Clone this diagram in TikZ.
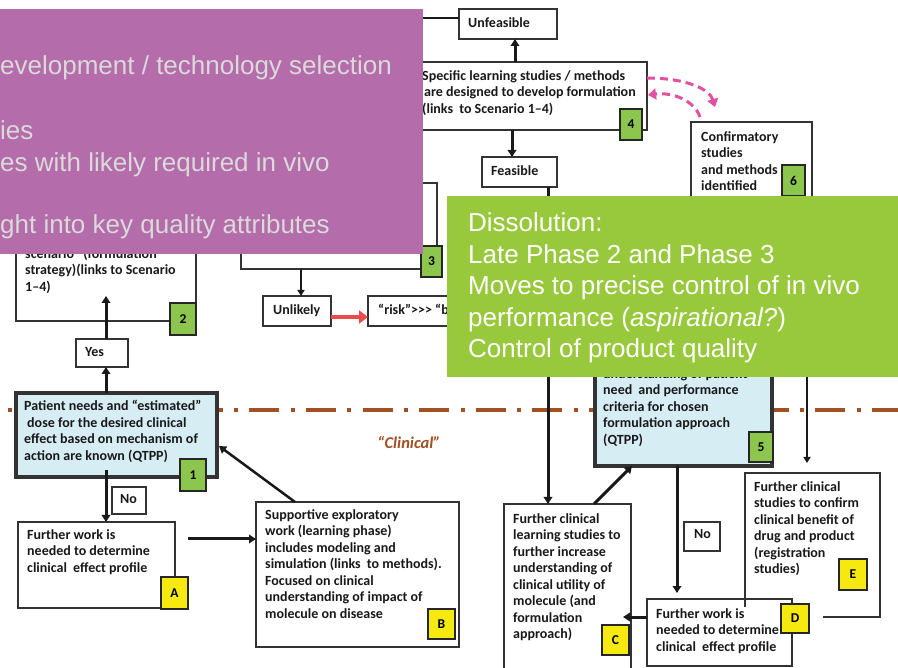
\documentclass[tikz,border=0pt]{standalone}
\usepackage{fontspec}
\setmainfont{Carlito}
\newfontfamily\arialf{Liberation Sans}
\usetikzlibrary{arrows.meta,calc}
\definecolor{purp}{RGB}{180,108,170}
\definecolor{grn}{RGB}{152,201,60}
\definecolor{lgrn}{RGB}{141,198,78}
\definecolor{yel}{RGB}{245,233,15}
\definecolor{lblue}{RGB}{215,237,244}
\definecolor{brn}{RGB}{160,80,35}
\definecolor{pnk}{RGB}{226,80,160}
\definecolor{redar}{RGB}{235,75,75}
\definecolor{ltxt}{RGB}{218,218,218}
\begin{document}
\begin{tikzpicture}[x=1pt,y=-1pt,
 box/.style={draw=black!80, line width=1.1pt, fill=white, inner sep=0pt, outer sep=0pt, anchor=north west},
 qbox/.style={box, fill=lblue, line width=3.5pt},
 txt/.style={font=\bfseries\fontsize{14}{16.5}\selectfont, align=left, inner sep=0pt, anchor=north west, text=black!90},
 lab/.style={draw=black!85, line width=1.1pt, inner sep=0pt, outer sep=0pt, font=\bfseries\fontsize{13.5}{13.5}\selectfont},
 glab/.style={lab, fill=lgrn},
 ylab/.style={lab, fill=yel},
 arr/.style={line width=3pt, black!90, -{Triangle[length=7pt,width=8.5pt]}},
 thinarr/.style={line width=2pt, black!90, -{Triangle[length=6pt,width=7pt]}},
 pk/.style={pnk, line width=3pt, dash pattern=on 8pt off 5pt, -{Triangle[length=8pt,width=11pt]}},
 big/.style={font=\arialf\fontsize{26}{31.5}\selectfont, inner sep=0pt, anchor=base west},
]
\clip (0,0) rectangle (898,668);
\fill[white] (0,0) rectangle (898,668);

% dash-dot separator
\coordinate (dl) at (-33.6,410);
\coordinate (dr) at (898,410);
\draw[brn, line width=4pt, dash pattern=on 30pt off 11.3pt on 4pt off 11.3pt] (dl) -- (dr);
\node[font=\bfseries\itshape\fontsize{16.5}{16.5}\selectfont, text=brn, inner sep=0pt] (clin) at (409,442) {“Clinical”};

% boxes
\node[box, minimum width=98pt, minimum height=30pt] (unf) at (459,9) {};
\node[box, minimum width=232pt, minimum height=68pt] (b4) at (415,62) {};
\node[box, minimum width=75pt, minimum height=30pt] (feas) at (482,157) {};
\node[box, minimum width=121pt, minimum height=130pt] (b6) at (691,122) {};
\node[box, minimum width=196pt, minimum height=86pt] (b3) at (241,183) {};
\node[box, minimum width=68pt, minimum height=30pt] (unl) at (263,296) {};
\node[box, minimum width=130pt, minimum height=30pt] (risk) at (368,296) {};
\node[box, minimum width=180pt, minimum height=121pt] (b2) at (16,200) {};
\node[box, minimum width=52pt, minimum height=28pt] (yes) at (76,339) {};
\node[qbox, minimum width=201pt, minimum height=84pt] (b1) at (16,393) {};
\node[box, minimum width=34pt, minimum height=27pt] (no1) at (112,487) {};
\node[box, minimum width=157pt, minimum height=86pt] (bA) at (18,522) {};
\node[box, minimum width=203pt, minimum height=145pt] (bB) at (256,502) {};
\node[qbox, minimum width=177pt, minimum height=136pt] (b5) at (595,330) {};
\node[box, minimum width=36pt, minimum height=29pt] (no2) at (684,522) {};
\node[box, minimum width=127pt, minimum height=200pt] (bC) at (504,504) {};
\node[box, minimum width=145pt, minimum height=67pt] (bD) at (647,599) {};
\node[inner sep=0pt, outer sep=0pt, anchor=north west, minimum width=135pt, minimum height=144pt] (bE) at (745,473) {};
\draw[black!80, line width=1.1pt] ($(bE.south west)+(0,-10)$) -- (bE.north west) -- (bE.north east) -- (bE.south east) -- ($(bE.south east)+(-57,0)$);

% texts
\node[txt] (tunf) at (468,17) {Unfeasible};
\node[txt] (t4) at (422,70) {Specific learning studies / methods\\\hspace{2pt}are designed to develop formulation\\(links\hspace{3pt} to Scenario 1–4)};
\node[txt] (tfeas) at (491,165) {Feasible};
\node[txt] (t6) at (701,131) {Confirmatory\\studies\\and methods\\identified};
\node[txt] (tunl) at (273,304) {Unlikely};
\node[txt] (trisk) at (378,304) {“risk”{>}{>}{>} “b};
\node[txt] (t2) at (25,247.5) {scenario” (formulation\\strategy)(links to Scenario\\1–4)};
\node[txt] (tyes) at (85,347) {Yes};
\node[txt] (t1) at (24,400) {Patient needs and “estimated”\\\hspace{3pt}dose for the desired clinical\\effect based on mechanism of\\action are known (QTPP)};
\node[txt] (tno1) at (120,494) {No};
\node[txt] (tA) at (27,529) {Further work is\\needed to determine\\clinical\hspace{3pt} effect profile};
\node[txt] (tB) at (265,509) {Supportive exploratory\\work (learning phase)\\includes modeling and\\simulation (links\hspace{3pt} to methods).\\Focused on clinical\\understanding of impact of\\molecule on disease};
\node[txt] (t5) at (603,368) {understanding of patient\\need\hspace{3pt} and performance\\criteria for chosen\\formulation approach\\(QTPP)};
\node[txt] (tno2) at (694,529) {No};
\node[txt] (tC) at (513,513) {Further clinical\\learning studies to\\further increase\\understanding of\\clinical utility of\\molecule (and\\formulation\\approach)};
\node[txt] (tD) at (656,608) {Further work is\\needed to determine\\clinical\hspace{3pt} effect profile};
\node[txt] (tE) at (754,481) {Further clinical\\studies to confirm\\clinical benefit of\\drug and product\\(registration\\studies)};

% labels
\node[glab, minimum width=22pt, minimum height=31pt] (L4) at (631,124.5) {4};
\node[glab, minimum width=23pt, minimum height=31pt] (L6) at (793.5,180.5) {6};
\node[glab, minimum width=21pt, minimum height=31pt] (L3) at (431.5,261.5) {3};
\node[glab, minimum width=26pt, minimum height=32pt] (L2) at (183,319) {2};
\node[glab, minimum width=26pt, minimum height=32pt] (L1) at (193,475) {1};
\node[ylab, minimum width=27pt, minimum height=32pt] (LA) at (174.5,593) {A};
\node[ylab, minimum width=27pt, minimum height=30pt] (LB) at (441.5,624) {B};
\node[glab, minimum width=24pt, minimum height=30pt] (L5) at (761,447) {5};
\node[ylab, minimum width=27pt, minimum height=30pt] (LC) at (615.5,640) {C};
\node[ylab, minimum width=28pt, minimum height=29pt] (LD) at (795,618.5) {D};
\node[ylab, minimum width=28pt, minimum height=31pt] (LE) at (853,574.5) {E};

% connectors
\draw[arr] (b4.north -| 515,0) -- (unf.south -| 515,0);
\draw[arr] (b4.south -| 512,0) -- (feas.north -| 512,0);
\draw[arr] (feas.south -| 548,0) -- (bC.north -| 548,0);
\draw[thinarr, line width=2.5pt] (b3.south -| 301,0) -- (unl.north -| 301,0);
\draw[redar, line width=4.5pt, -{Triangle[length=9pt,width=13pt]}] (unl.east |- 0,317) -- (risk.west |- 0,317);
\draw[arr] (yes.north -| 106,0) -- ($(b2.south -| 106,0)+(0,-25)$);
\draw[arr] (b1.north -| 106,0) -- (yes.south -| 106,0);
\draw[arr] ($(b1.south -| 106,0)+(0,-7)$) -- (bA.north -| 106,0);
\draw[arr] (LA.east |- 0,539) -- (bB.west |- 0,539);
\draw[arr, line width=2.5pt] (bB.north -| 295,0) -- ($(b1.east |- 0,446)+(2,0)$);
\draw[arr] (b5.south -| 677,0) -- ($(bD.north -| 677,0)+(0,-6)$);
\draw[arr] (bC.north -| 594,0) -- (b5.south -| 632,0);
\draw[arr] (bD.west |- 0,617) -- ($(bC.east |- 0,617)+(-8,0)$);
\draw[thinarr] (b6.south -| 807,0) -- ($(bE.north -| 807,0)+(0,-10)$);
\draw[pk] ([yshift=18pt]b4.east) .. controls (688,78) and (710,90) .. ([xshift=24pt,yshift=15pt]b6.north west);
\draw[pk] ([xshift=9pt,yshift=5pt]b6.north west) .. controls (694,100) and (672,92) .. ([xshift=1pt,yshift=1pt]b4.east);

% overlays
\node[fill=purp, minimum width=423pt, minimum height=245pt, anchor=north west, inner sep=0pt, outer sep=0pt] (purp) at (0,9) {};
\draw[line width=2.5pt, black!90] (purp.east |- 0,18) -- (unf.west |- 0,18);
\node[big, text=ltxt] (p1) at (0,75) {evelopment / technology selection};
\node[big, text=ltxt] (p2) at (0,140) {ies};
\node[big, text=ltxt] (p3) at (0,172) {es with likely required in vivo};
\node[big, text=ltxt] (p4) at (0,234) {ght into key quality attributes};

\node[fill=grn, minimum width=451pt, minimum height=181pt, anchor=north west, inner sep=0pt, outer sep=0pt] (green) at (447,196) {};
\node[big, text=white] (g1) at (468,232) {Dissolution:};
\node[big, text=white] (g2) at (468,263.5) {Late Phase 2 and Phase 3};
\node[big, text=white] (g3) at (468,295) {Moves to precise control of in vivo};
\node[big, text=white] (g4) at (468,326.5) {performance (\textit{aspirational?})};
\node[big, text=white] (g5) at (468,358) {Control of product quality};
\end{tikzpicture}
\end{document}
